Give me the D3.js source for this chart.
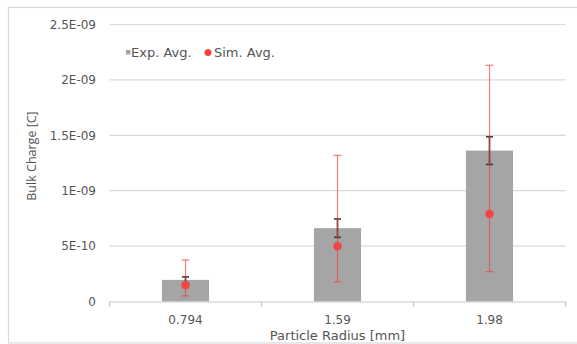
<!DOCTYPE html>
<html>
<head>
<meta charset="utf-8">
<script src="https://cdn.jsdelivr.net/npm/d3@7"></script>
<style>
  html, body { margin: 0; padding: 0; background: #fff; }
  svg { display: block; font-family: "DejaVu Sans", "Open Sans", sans-serif; }
</style>
</head>
<body>
<svg id="chart" width="577" height="344"></svg>
<script>
// Particle radius categories (mm)
const radii = ["0.794", "1.59", "1.98"];
// Experimental average bulk charge (C) and its symmetric error
const expAvg = [1.95e-10, 6.62e-10, 1.362e-9];
const expErr = [0.27e-10, 0.83e-10, 1.25e-10];
// Simulated average bulk charge (C) with lower / upper error bounds
const simAvg = [1.46e-10, 4.98e-10, 7.9e-10];
const simLow = [0.5e-10, 1.76e-10, 2.69e-10];
const simHigh = [3.75e-10, 1.319e-9, 2.132e-9];
// Y axis ticks and their labels
const yTicks = [0, 5e-10, 1e-9, 1.5e-9, 2e-9, 2.5e-9];
const yTickLabels = ["0", "5E-10", "1E-09", "1.5E-09", "2E-09", "2.5E-09"];

const svg = d3.select("#chart");
const plot = { left: 109.5, right: 565.5, top: 24.5, bottom: 301.5 };

// Outer chart frame
svg.append("rect")
  .attr("x", 8.5).attr("y", 7.5)
  .attr("width", 600).attr("height", 335.5)
  .attr("fill", "none").attr("stroke", "#d9d9d9").attr("stroke-width", 1.2);

const x = d3.scaleBand().domain(radii).range([plot.left, plot.right]).padding(0);
const y = d3.scaleLinear().domain([0, 2.5e-9]).range([plot.bottom, plot.top]);
const barFrac = 0.31;
const barW = x.bandwidth() * barFrac;
const cx = d => x(d) + x.bandwidth() / 2;

// Horizontal gridlines
svg.append("g").selectAll("line").data(yTicks.slice(1)).join("line")
  .attr("x1", plot.left).attr("x2", plot.right)
  .attr("y1", d => y(d)).attr("y2", d => y(d))
  .attr("stroke", "#d9d9d9").attr("stroke-width", 1.2);

// Y tick labels
svg.append("g").selectAll("text").data(yTicks).join("text")
  .attr("x", 96).attr("y", d => y(d))
  .attr("dy", "0.36em")
  .attr("text-anchor", "end")
  .attr("font-size", 12).attr("fill", "#555")
  .text((d, i) => yTickLabels[i]);

// Bars
svg.append("g").selectAll("rect").data(radii).join("rect")
  .attr("x", d => cx(d) - barW / 2)
  .attr("width", barW)
  .attr("y", (d, i) => y(expAvg[i]))
  .attr("height", (d, i) => y(0) - y(expAvg[i]))
  .attr("fill", "#a5a5a5");

// X axis line and category boundary ticks
const xAxis = d3.axisBottom(x).tickSize(0).tickFormat("");
svg.append("g").attr("transform", `translate(0,${plot.bottom})`).call(xAxis)
  .call(g => g.select(".domain").attr("stroke", "#c8c8c8").attr("stroke-width", 1.2))
  .call(g => g.selectAll(".tick").remove());
const bounds = [plot.left].concat(radii.map(r => x(r) + x.bandwidth()));
svg.append("g").selectAll("line").data(bounds).join("line")
  .attr("x1", d => d).attr("x2", d => d)
  .attr("y1", plot.bottom).attr("y2", plot.bottom + 5)
  .attr("stroke", "#c8c8c8").attr("stroke-width", 1.2);

// Category labels
svg.append("g").selectAll("text").data(radii).join("text")
  .attr("x", d => cx(d)).attr("y", 323.5)
  .attr("text-anchor", "middle")
  .attr("font-size", 12).attr("fill", "#555")
  .text(d => d);

// Experimental error bars
const expG = svg.append("g").attr("stroke", "#3a3a3a").attr("stroke-width", 1.6);
radii.forEach((r, i) => {
  const c = cx(r), hi = y(expAvg[i] + expErr[i]), lo = y(expAvg[i] - expErr[i]);
  expG.append("line").attr("x1", c).attr("x2", c).attr("y1", hi).attr("y2", lo);
  [hi, lo].forEach(v => expG.append("line")
    .attr("x1", c - 3.5).attr("x2", c + 3.5).attr("y1", v).attr("y2", v));
});

// Simulation error bars
const simG = svg.append("g").attr("stroke", "#f03c3c").attr("stroke-width", 1.2).attr("stroke-opacity", 0.65);
radii.forEach((r, i) => {
  const c = cx(r), hi = y(simHigh[i]), lo = y(simLow[i]);
  simG.append("line").attr("x1", c).attr("x2", c).attr("y1", hi).attr("y2", lo);
  [hi, lo].forEach(v => simG.append("line")
    .attr("x1", c - 4).attr("x2", c + 4).attr("y1", v).attr("y2", v));
});

// Simulation points
svg.append("g").selectAll("circle").data(radii).join("circle")
  .attr("cx", d => cx(d)).attr("cy", (d, i) => y(simAvg[i]))
  .attr("r", 4.2).attr("fill", "#f44444");

// Legend
const leg = svg.append("g").attr("font-size", 13).attr("fill", "#555");
leg.append("rect").attr("x", 126).attr("y", 50).attr("width", 4.5).attr("height", 4.5).attr("fill", "#a5a5a5");
leg.append("text").attr("x", 131).attr("y", 57).text("Exp. Avg.");
leg.append("circle").attr("cx", 208).attr("cy", 52.5).attr("r", 3.5).attr("fill", "#f44444");
leg.append("text").attr("x", 214).attr("y", 57).text("Sim. Avg.");

// Axis titles
svg.append("text")
  .attr("x", (plot.left + plot.right) / 2).attr("y", 339.5)
  .attr("text-anchor", "middle").attr("font-size", 13).attr("fill", "#555")
  .text("Particle Radius [mm]");
svg.append("text")
  .attr("transform", "translate(36,156) rotate(-90)")
  .attr("text-anchor", "middle").attr("font-size", 12.5).attr("fill", "#555")
  .style("font-family", "'Open Sans', sans-serif")
  .text("Bulk Charge [C]");
</script>
</body>
</html>
